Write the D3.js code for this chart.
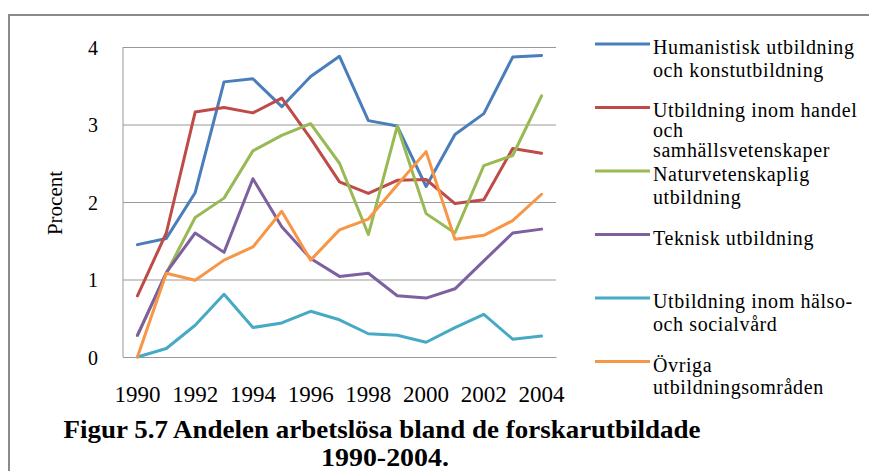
<!DOCTYPE html>
<html>
<head>
<meta charset="utf-8">
<script src="https://cdn.jsdelivr.net/npm/d3@7"></script>
<style>
  html, body { margin: 0; padding: 0; background: #fff; }
  svg { display: block; }
</style>
</head>
<body>
<svg id="chart" width="869" height="471"></svg>
<script>
// ---- data ----
const years = ["1990","1991","1992","1993","1994","1995","1996","1997","1998","1999","2000","2001","2002","2003","2004"];
const xTickLabels = ["1990","1992","1994","1996","1998","2000","2002","2004"];
const yTicks = [0, 1, 2, 3, 4];

const humanistisk = [1.45, 1.53, 2.12, 3.55, 3.59, 3.23, 3.62, 3.88, 3.05, 2.98, 2.20, 2.87, 3.14, 3.87, 3.89];
const handel      = [0.79, 1.60, 3.16, 3.22, 3.15, 3.34, 2.82, 2.26, 2.11, 2.28, 2.29, 1.98, 2.03, 2.69, 2.63];
const natur       = [0.28, 1.08, 1.80, 2.05, 2.66, 2.86, 3.01, 2.50, 1.58, 2.98, 1.85, 1.60, 2.47, 2.60, 3.37];
const teknisk     = [0.28, 1.09, 1.60, 1.35, 2.30, 1.68, 1.27, 1.04, 1.08, 0.79, 0.76, 0.88, 1.24, 1.60, 1.65];
const halso       = [0.00, 0.11, 0.41, 0.81, 0.38, 0.44, 0.59, 0.48, 0.30, 0.28, 0.19, 0.38, 0.55, 0.23, 0.27];
const ovriga      = [0.00, 1.08, 0.99, 1.25, 1.42, 1.88, 1.25, 1.64, 1.78, 2.22, 2.65, 1.52, 1.57, 1.76, 2.10];

const seriesNames = [
  ["Humanistisk utbildning", "och konstutbildning"],
  ["Utbildning inom handel", "och", "samhällsvetenskaper"],
  ["Naturvetenskaplig", "utbildning"],
  ["Teknisk utbildning"],
  ["Utbildning inom hälso-", "och socialvård"],
  ["Övriga", "utbildningsområden"]
];
const seriesValues = [humanistisk, handel, natur, teknisk, halso, ovriga];
const yLabel = "Procent";
const titleLines = ["Figur 5.7 Andelen arbetslösa bland de forskarutbildade", "1990-2004."];

// ---- styles / layout ----
const colors = ["#4a7ebb", "#be4b48", "#98b954", "#7d60a0", "#46aac5", "#f79646"];
const serif = "'Liberation Serif', 'Times New Roman', serif";

const svg = d3.select("#chart");
const plot = { left: 123, right: 556, top: 47, bottom: 357 };

// frame
svg.append("path")
  .attr("d", "M9,471 L9,15 L869,15")
  .attr("fill", "none").attr("stroke", "#8a8a8a").attr("stroke-width", 2);

const x = d3.scaleBand().domain(years).range([plot.left, plot.right]).padding(0);
const y = d3.scaleLinear().domain([0, 4]).range([plot.bottom, plot.top]);
const cx = d => x(d) + x.bandwidth() / 2;

// gridlines + y tick labels
const yAxis = d3.axisLeft(y).tickValues(yTicks).tickSize(-(plot.right - plot.left)).tickPadding(25).tickFormat(d3.format("d"));
const gy = svg.append("g").attr("transform", `translate(${plot.left},0)`).call(yAxis);
gy.select(".domain").remove();
gy.selectAll(".tick line").attr("stroke", "#999").attr("stroke-width", 1);
gy.selectAll(".tick text")
  .attr("font-family", serif).attr("font-size", 20).attr("fill", "#000")
  .attr("text-anchor", "end").attr("dy", "0.35em");

// left axis line
svg.append("line")
  .attr("x1", plot.left).attr("x2", plot.left)
  .attr("y1", y(4)).attr("y2", y(0))
  .attr("stroke", "#999").attr("stroke-width", 1);

// x axis
const xAxis = d3.axisBottom(x).tickValues(xTickLabels).tickSize(0).tickPadding(29);
const gx = svg.append("g").attr("transform", `translate(0,${plot.bottom})`).call(xAxis);
gx.select(".domain").attr("stroke", "#999");
gx.selectAll(".tick text")
  .attr("font-family", serif).attr("font-size", 23).attr("fill", "#000");

// y label
svg.append("text")
  .attr("transform", `translate(62,203) rotate(-90)`)
  .attr("text-anchor", "middle")
  .attr("font-family", serif).attr("font-size", 21).attr("fill", "#000")
  .text(yLabel);

// lines
const line = d3.line().x((d, i) => cx(years[i])).y(d => y(d));
seriesValues.forEach((vals, i) => {
  svg.append("path")
    .datum(vals)
    .attr("d", line)
    .attr("fill", "none")
    .attr("stroke", colors[i])
    .attr("stroke-width", 3)
    .attr("stroke-linejoin", "round")
    .attr("stroke-linecap", "round");
});

// legend
const legendTop = 44, legendStep = 63.5;
seriesNames.forEach((lines, i) => {
  const ly = legendTop + i * legendStep;
  svg.append("line")
    .attr("x1", 595).attr("x2", 650).attr("y1", ly).attr("y2", ly)
    .attr("stroke", colors[i]).attr("stroke-width", 3);
  const t = svg.append("text")
    .attr("font-family", serif).attr("font-size", 20).attr("fill", "#000")
    .attr("letter-spacing", 0.6);
  const lh = lines.length > 2 ? 20 : 22.5;
  const first = lines.length > 2 ? 9 : 10;
  lines.forEach((s, k) => {
    t.append("tspan").attr("x", 653).attr("y", ly + first + k * lh).text(s);
  });
});

// title
svg.append("text")
  .attr("x", 382).attr("y", 438)
  .attr("text-anchor", "middle")
  .attr("font-family", serif).attr("font-size", 25).attr("font-weight", "bold")
  .attr("textLength", 637).attr("lengthAdjust", "spacingAndGlyphs")
  .text(titleLines[0]);
svg.append("text")
  .attr("x", 385).attr("y", 466)
  .attr("text-anchor", "middle")
  .attr("font-family", serif).attr("font-size", 25).attr("font-weight", "bold")
  .attr("textLength", 128).attr("lengthAdjust", "spacingAndGlyphs")
  .text(titleLines[1]);
</script>
</body>
</html>
